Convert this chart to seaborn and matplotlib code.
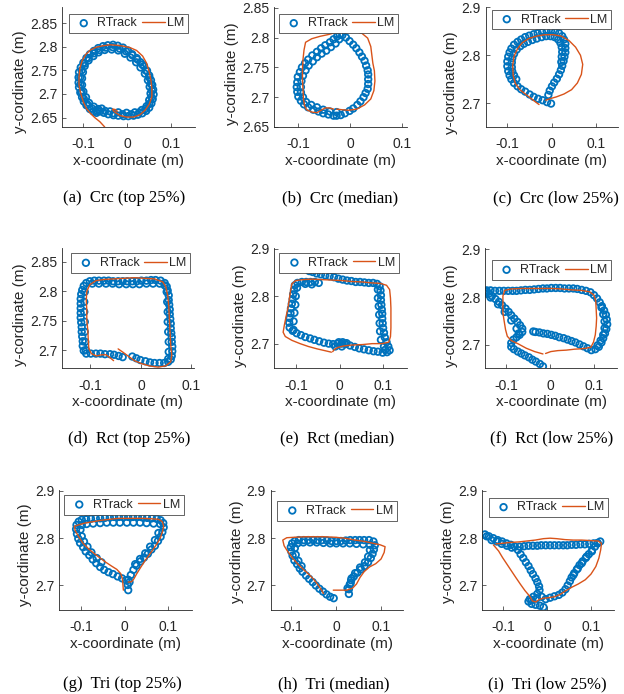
import matplotlib
matplotlib.use("Agg")
import matplotlib.pyplot as plt
import seaborn as sns
import pandas as pd

# ---------------- data: (x, y) in metres ----------------
# (a) circle, top 25%
rtrack_a = [(-0.062, 2.663), (-0.053, 2.660), (-0.043, 2.657), (-0.031, 2.655), (-0.020, 2.654), (-0.008, 2.653),
            (0.003, 2.653), (0.015, 2.654), (0.025, 2.656), (0.035, 2.659), (0.044, 2.664), (0.051, 2.671),
            (0.056, 2.680), (0.059, 2.689), (0.061, 2.699), (0.060, 2.709), (0.058, 2.719), (0.055, 2.729),
            (0.051, 2.739), (0.046, 2.749), (0.039, 2.759), (0.031, 2.767), (0.022, 2.776), (0.012, 2.784),
            (0.002, 2.792), (-0.009, 2.798), (-0.021, 2.802), (-0.032, 2.804), (-0.044, 2.803), (-0.055, 2.801),
            (-0.066, 2.797), (-0.076, 2.791), (-0.085, 2.784), (-0.093, 2.776), (-0.100, 2.766), (-0.106, 2.756),
            (-0.110, 2.746), (-0.111, 2.735), (-0.111, 2.724), (-0.110, 2.714), (-0.107, 2.703), (-0.103, 2.693),
            (-0.099, 2.684), (-0.093, 2.676), (-0.085, 2.668), (-0.077, 2.663), (-0.070, 2.660),
            (-0.058, 2.669), (-0.039, 2.663), (-0.020, 2.661), (-0.001, 2.660), (0.018, 2.661), (0.034, 2.666),
            (0.045, 2.674), (0.051, 2.687), (0.054, 2.701), (0.052, 2.715), (0.048, 2.729), (0.041, 2.743),
            (0.031, 2.756), (0.021, 2.767), (0.008, 2.777), (-0.005, 2.785), (-0.020, 2.792), (-0.035, 2.794),
            (-0.051, 2.793), (-0.065, 2.788), (-0.077, 2.780), (-0.088, 2.771), (-0.097, 2.759), (-0.101, 2.746),
            (-0.103, 2.733), (-0.103, 2.719), (-0.100, 2.705), (-0.094, 2.693), (-0.087, 2.681), (-0.076, 2.673),
            (-0.066, 2.668),
            (-0.050, 2.664), (-0.030, 2.659), (-0.010, 2.657), (0.010, 2.657), (0.028, 2.661), (0.042, 2.668),
            (0.051, 2.679), (0.056, 2.693), (0.057, 2.707), (0.055, 2.721), (0.051, 2.735), (0.044, 2.749),
            (0.035, 2.762), (0.024, 2.773), (0.012, 2.782), (-0.002, 2.790), (-0.017, 2.796), (-0.033, 2.799),
            (-0.049, 2.798), (-0.063, 2.793), (-0.076, 2.786), (-0.088, 2.776), (-0.097, 2.764), (-0.104, 2.750),
            (-0.107, 2.735), (-0.107, 2.720), (-0.104, 2.704), (-0.099, 2.690), (-0.091, 2.678), (-0.080, 2.669),
            (-0.068, 2.664)]
lm_a = [(-0.051, 2.630), (-0.062, 2.641), (-0.074, 2.650), (-0.084, 2.659), (-0.093, 2.669), (-0.100, 2.683),
        (-0.106, 2.701), (-0.110, 2.719), (-0.110, 2.737), (-0.108, 2.754), (-0.103, 2.770), (-0.094, 2.784),
        (-0.084, 2.793), (-0.070, 2.799), (-0.054, 2.802), (-0.039, 2.804), (-0.024, 2.803), (-0.008, 2.801),
        (0.007, 2.798), (0.022, 2.792), (0.036, 2.780), (0.045, 2.765), (0.051, 2.747), (0.055, 2.729),
        (0.057, 2.712), (0.057, 2.694), (0.051, 2.678), (0.042, 2.666), (0.030, 2.656), (0.015, 2.651),
        (-0.001, 2.651), (-0.015, 2.654), (-0.024, 2.659), (-0.031, 2.664), (-0.033, 2.668), (-0.027, 2.667),
        (-0.022, 2.663)]

# (b) circle, median
rtrack_b = [(-0.032, 2.669), (-0.042, 2.671), (-0.052, 2.673), (-0.061, 2.676), (-0.071, 2.679), (-0.081, 2.683),
            (-0.089, 2.688), (-0.095, 2.694), (-0.100, 2.701), (-0.102, 2.709), (-0.103, 2.717), (-0.102, 2.725),
            (-0.101, 2.734), (-0.097, 2.742), (-0.093, 2.750), (-0.087, 2.757), (-0.081, 2.763), (-0.073, 2.770),
            (-0.064, 2.776), (-0.056, 2.782), (-0.048, 2.787), (-0.039, 2.792), (-0.032, 2.797), (-0.025, 2.802),
            (-0.020, 2.805), (-0.015, 2.804), (-0.008, 2.800), (-0.001, 2.794), (0.006, 2.788), (0.012, 2.782),
            (0.018, 2.775), (0.023, 2.768), (0.028, 2.761), (0.031, 2.753), (0.034, 2.745), (0.035, 2.738),
            (0.035, 2.730), (0.035, 2.722), (0.034, 2.714), (0.030, 2.707), (0.026, 2.700), (0.020, 2.693),
            (0.014, 2.687), (0.006, 2.681), (-0.001, 2.677), (-0.010, 2.673), (-0.018, 2.670), (-0.026, 2.669),
            (-0.026, 2.675), (-0.039, 2.676), (-0.052, 2.679), (-0.064, 2.683), (-0.075, 2.687), (-0.085, 2.692),
            (-0.091, 2.700), (-0.095, 2.708), (-0.095, 2.717), (-0.094, 2.727), (-0.091, 2.736), (-0.086, 2.745),
            (-0.080, 2.753), (-0.072, 2.760), (-0.064, 2.767), (-0.055, 2.773), (-0.046, 2.778), (-0.037, 2.784),
            (-0.028, 2.790), (-0.021, 2.797)]
lm_b = [(-0.032, 2.680), (-0.041, 2.682), (-0.048, 2.682), (-0.056, 2.678), (-0.064, 2.674), (-0.074, 2.675),
        (-0.084, 2.679), (-0.088, 2.686), (-0.090, 2.697), (-0.091, 2.713), (-0.092, 2.730), (-0.092, 2.746),
        (-0.091, 2.763), (-0.089, 2.779), (-0.086, 2.792), (-0.074, 2.798), (-0.058, 2.802), (-0.042, 2.805),
        (-0.026, 2.809), (-0.010, 2.811), (0.006, 2.811), (0.023, 2.807), (0.034, 2.799), (0.040, 2.785),
        (0.042, 2.771), (0.044, 2.757), (0.047, 2.744), (0.048, 2.727), (0.046, 2.711), (0.040, 2.697),
        (0.028, 2.687), (0.013, 2.680), (-0.003, 2.678), (-0.016, 2.679), (-0.026, 2.680)]

# (c) circle, low 25%
rtrack_c = [(-0.007, 2.717), (-0.004, 2.726), (0.001, 2.735), (0.006, 2.743), (0.012, 2.751), (0.017, 2.760),
            (0.021, 2.769), (0.024, 2.778), (0.027, 2.788), (0.029, 2.797), (0.031, 2.806), (0.031, 2.815),
            (0.031, 2.824), (0.028, 2.833), (0.024, 2.840), (0.017, 2.846), (0.008, 2.849), (-0.001, 2.851),
            (-0.011, 2.850), (-0.021, 2.848), (-0.031, 2.846), (-0.040, 2.844), (-0.050, 2.841), (-0.059, 2.838),
            (-0.068, 2.833), (-0.076, 2.828), (-0.084, 2.822), (-0.090, 2.814), (-0.094, 2.806), (-0.097, 2.797),
            (-0.099, 2.787), (-0.099, 2.777), (-0.097, 2.767), (-0.094, 2.758), (-0.090, 2.750), (-0.084, 2.742),
            (-0.076, 2.735), (-0.068, 2.729), (-0.059, 2.724), (-0.049, 2.718), (-0.040, 2.713), (-0.030, 2.709),
            (-0.020, 2.706), (-0.010, 2.702), (-0.001, 2.699),
            (0.022, 2.786), (0.023, 2.797), (0.024, 2.807), (0.023, 2.817), (0.020, 2.826), (0.015, 2.833),
            (0.007, 2.838), (-0.002, 2.840), (-0.012, 2.840), (-0.022, 2.838), (-0.033, 2.835), (-0.043, 2.832),
            (-0.053, 2.828), (-0.062, 2.824), (-0.070, 2.819), (-0.078, 2.812), (-0.084, 2.803), (-0.088, 2.794),
            (-0.089, 2.785), (-0.089, 2.775), (-0.088, 2.766), (-0.084, 2.758), (-0.079, 2.750)]
lm_c = [(-0.028, 2.697), (-0.041, 2.706), (-0.056, 2.717), (-0.071, 2.728), (-0.081, 2.741), (-0.086, 2.758),
        (-0.087, 2.779), (-0.084, 2.798), (-0.076, 2.814), (-0.066, 2.826), (-0.051, 2.835), (-0.034, 2.840),
        (-0.015, 2.843), (0.004, 2.843), (0.022, 2.840), (0.039, 2.831), (0.054, 2.817), (0.065, 2.800),
        (0.070, 2.781), (0.067, 2.760), (0.058, 2.742), (0.045, 2.728), (0.028, 2.719), (0.011, 2.713),
        (-0.004, 2.709), (-0.013, 2.706)]

# (d) rectangle, top 25%
rtrack_d = [(-0.017, 2.689), (-0.009, 2.686), (-0.001, 2.683), (0.009, 2.681), (0.018, 2.679), (0.027, 2.678),
            (0.037, 2.678), (0.046, 2.678), (0.054, 2.680), (0.059, 2.684), (0.061, 2.690), (0.062, 2.698),
            (0.062, 2.706), (0.061, 2.714), (0.061, 2.722), (0.060, 2.729), (0.059, 2.737), (0.059, 2.745),
            (0.058, 2.753), (0.057, 2.761), (0.057, 2.769), (0.056, 2.777), (0.055, 2.785), (0.055, 2.793),
            (0.053, 2.801), (0.051, 2.808), (0.047, 2.814), (0.039, 2.818), (0.029, 2.819), (0.020, 2.819),
            (0.011, 2.818), (0.001, 2.818), (-0.008, 2.817), (-0.017, 2.817), (-0.027, 2.817), (-0.036, 2.817),
            (-0.045, 2.817), (-0.055, 2.817), (-0.064, 2.818), (-0.073, 2.818), (-0.083, 2.818), (-0.092, 2.818),
            (-0.101, 2.817), (-0.108, 2.814), (-0.113, 2.809), (-0.116, 2.802), (-0.118, 2.795), (-0.119, 2.787),
            (-0.119, 2.779), (-0.119, 2.771), (-0.119, 2.763), (-0.119, 2.755), (-0.118, 2.747), (-0.117, 2.739),
            (-0.117, 2.731), (-0.116, 2.723), (-0.115, 2.715), (-0.115, 2.707), (-0.113, 2.699), (-0.108, 2.694),
            (-0.099, 2.694), (-0.089, 2.694), (-0.080, 2.694), (-0.071, 2.693), (-0.061, 2.693), (-0.053, 2.692),
            (-0.044, 2.690), (-0.036, 2.688),
            (0.047, 2.810), (0.037, 2.813), (0.024, 2.813), (0.011, 2.813), (-0.003, 2.812), (-0.016, 2.812),
            (-0.029, 2.812), (-0.043, 2.812), (-0.056, 2.813), (-0.069, 2.813), (-0.083, 2.813), (-0.096, 2.813),
            (0.051, 2.799), (0.052, 2.782), (0.053, 2.765), (0.053, 2.748), (0.054, 2.731), (0.055, 2.714),
            (0.055, 2.697), (0.054, 2.685),
            (-0.111, 2.799), (-0.112, 2.782), (-0.112, 2.765), (-0.111, 2.748), (-0.111, 2.731), (-0.110, 2.714),
            (-0.109, 2.700)]
lm_d = [(-0.045, 2.702), (-0.035, 2.696), (-0.024, 2.689), (-0.013, 2.682), (0.001, 2.677), (0.017, 2.673),
        (0.034, 2.671), (0.049, 2.673), (0.059, 2.680), (0.061, 2.692), (0.059, 2.708), (0.058, 2.725),
        (0.057, 2.742), (0.056, 2.759), (0.055, 2.776), (0.053, 2.793), (0.049, 2.808), (0.043, 2.816),
        (0.027, 2.821), (0.007, 2.822), (-0.013, 2.823), (-0.033, 2.822), (-0.053, 2.821), (-0.073, 2.820),
        (-0.089, 2.818), (-0.101, 2.811), (-0.107, 2.800), (-0.108, 2.785), (-0.107, 2.768), (-0.107, 2.751),
        (-0.105, 2.734), (-0.104, 2.717), (-0.103, 2.703), (-0.098, 2.694), (-0.088, 2.690), (-0.077, 2.692),
        (-0.069, 2.692), (-0.061, 2.687), (-0.054, 2.682)]

# (e) rectangle, median
rtrack_e = [(-0.070, 2.853), (-0.062, 2.851), (-0.053, 2.848), (-0.043, 2.846), (-0.033, 2.844), (-0.023, 2.842),
            (-0.013, 2.840), (-0.003, 2.837), (0.007, 2.835), (0.017, 2.833), (0.027, 2.832), (0.037, 2.830),
            (0.047, 2.830), (0.057, 2.829), (0.067, 2.828), (0.077, 2.828), (0.086, 2.826), (0.092, 2.821),
            (0.094, 2.812), (0.095, 2.802), (0.095, 2.792), (0.096, 2.782), (0.097, 2.772), (0.098, 2.763),
            (0.098, 2.753), (0.099, 2.743), (0.100, 2.733), (0.102, 2.723), (0.104, 2.713), (0.108, 2.703),
            (0.112, 2.694), (0.115, 2.686), (0.109, 2.682), (0.099, 2.681), (0.088, 2.683), (0.078, 2.684),
            (0.067, 2.686), (0.056, 2.688), (0.045, 2.690), (0.035, 2.693), (0.024, 2.696), (0.013, 2.699),
            (0.004, 2.700), (-0.005, 2.700), (-0.015, 2.699), (-0.025, 2.700), (-0.036, 2.702), (-0.047, 2.705),
            (-0.058, 2.708), (-0.068, 2.711), (-0.079, 2.714), (-0.089, 2.718), (-0.099, 2.722), (-0.108, 2.727),
            (-0.115, 2.734), (-0.116, 2.744), (-0.115, 2.754), (-0.113, 2.764), (-0.112, 2.774), (-0.110, 2.784),
            (-0.108, 2.794), (-0.107, 2.804), (-0.105, 2.813), (-0.103, 2.823), (-0.097, 2.828), (-0.087, 2.830),
            (-0.077, 2.830), (-0.067, 2.830), (-0.057, 2.830), (-0.048, 2.828),
            (-0.106, 2.729), (-0.106, 2.747), (-0.104, 2.765), (-0.102, 2.782), (-0.101, 2.800), (-0.098, 2.818),
            (0.088, 2.814), (0.088, 2.796), (0.090, 2.779), (0.091, 2.761), (0.092, 2.743), (0.093, 2.726),
            (0.095, 2.708), (0.102, 2.694), (0.105, 2.687),
            (-0.002, 2.703), (0.007, 2.703), (0.016, 2.701), (-0.010, 2.694), (0.005, 2.694),
            (-0.079, 2.826), (-0.064, 2.825)]
lm_e = [(-0.019, 2.682), (-0.033, 2.685), (-0.052, 2.689), (-0.072, 2.694), (-0.091, 2.700), (-0.110, 2.707),
        (-0.125, 2.715), (-0.130, 2.724), (-0.127, 2.740), (-0.123, 2.758), (-0.119, 2.775), (-0.116, 2.793),
        (-0.113, 2.811), (-0.110, 2.826), (-0.101, 2.833), (-0.083, 2.835), (-0.064, 2.836), (-0.041, 2.835),
        (-0.018, 2.834), (0.005, 2.833), (0.028, 2.831), (0.052, 2.830), (0.075, 2.828), (0.094, 2.827),
        (0.108, 2.823), (0.115, 2.814), (0.117, 2.796), (0.118, 2.775), (0.118, 2.754), (0.118, 2.733),
        (0.117, 2.715), (0.113, 2.703), (0.098, 2.700), (0.075, 2.700), (0.052, 2.698), (0.028, 2.697),
        (0.009, 2.695), (-0.004, 2.692), (-0.012, 2.688), (-0.016, 2.683)]

# (f) rectangle, low 25%
rtrack_f = [(-0.017, 2.655), (-0.024, 2.660), (-0.033, 2.665), (-0.041, 2.669), (-0.049, 2.674), (-0.058, 2.678),
            (-0.066, 2.682), (-0.074, 2.686), (-0.083, 2.691), (-0.089, 2.696), (-0.089, 2.704), (-0.084, 2.711),
            (-0.077, 2.716), (-0.070, 2.721), (-0.064, 2.727), (-0.064, 2.734), (-0.069, 2.741), (-0.075, 2.748),
            (-0.082, 2.755), (-0.089, 2.762), (-0.095, 2.769), (-0.102, 2.776), (-0.110, 2.783), (-0.117, 2.790),
            (-0.125, 2.796), (-0.133, 2.802), (-0.140, 2.807), (-0.147, 2.811), (-0.145, 2.814), (-0.136, 2.814),
            (-0.126, 2.813), (-0.116, 2.813), (-0.106, 2.813), (-0.096, 2.813), (-0.086, 2.813), (-0.077, 2.813),
            (-0.067, 2.814), (-0.057, 2.815), (-0.047, 2.815), (-0.037, 2.816), (-0.027, 2.817), (-0.017, 2.818),
            (-0.008, 2.818), (0.002, 2.819), (0.012, 2.819), (0.022, 2.819), (0.032, 2.818), (0.042, 2.818),
            (0.052, 2.818), (0.061, 2.817), (0.071, 2.815), (0.081, 2.813), (0.091, 2.810), (0.099, 2.804),
            (0.106, 2.797), (0.112, 2.789), (0.117, 2.781), (0.122, 2.772), (0.126, 2.763), (0.128, 2.753),
            (0.129, 2.743), (0.127, 2.733), (0.124, 2.724), (0.120, 2.714), (0.116, 2.705), (0.110, 2.696),
            (0.102, 2.691), (0.093, 2.689), (0.084, 2.693), (0.075, 2.697), (0.066, 2.701), (0.057, 2.705),
            (0.048, 2.708), (0.039, 2.711), (0.030, 2.714), (0.020, 2.716), (0.011, 2.719), (0.002, 2.721),
            (-0.007, 2.723), (-0.016, 2.724), (-0.025, 2.726), (-0.034, 2.727), (-0.039, 2.728),
            (0.116, 2.778), (0.120, 2.764), (0.123, 2.749), (0.123, 2.735), (0.120, 2.721), (0.114, 2.709),
            (0.107, 2.699),
            (-0.072, 2.724), (-0.077, 2.734), (-0.089, 2.751), (-0.104, 2.769), (-0.119, 2.785), (-0.136, 2.799),
            (-0.149, 2.808)]
lm_f = [(-0.017, 2.681), (-0.036, 2.686), (-0.055, 2.693), (-0.073, 2.702), (-0.089, 2.709), (-0.098, 2.718),
        (-0.102, 2.732), (-0.105, 2.749), (-0.108, 2.767), (-0.108, 2.785), (-0.108, 2.802), (-0.104, 2.814),
        (-0.089, 2.817), (-0.066, 2.818), (-0.043, 2.818), (-0.020, 2.818), (0.002, 2.818), (0.025, 2.817),
        (0.048, 2.815), (0.070, 2.814), (0.089, 2.811), (0.099, 2.804), (0.103, 2.792), (0.104, 2.774),
        (0.105, 2.756), (0.104, 2.739), (0.102, 2.721), (0.098, 2.706), (0.092, 2.695), (0.074, 2.692),
        (0.055, 2.691), (0.036, 2.689), (0.017, 2.688), (0.001, 2.686), (-0.011, 2.682)]

# (g) triangle, top 25%
rtrack_g = [(0.008, 2.690), (0.007, 2.701), (0.008, 2.712), (0.014, 2.722), (0.020, 2.733), (0.027, 2.742),
            (0.036, 2.751), (0.044, 2.759), (0.053, 2.767), (0.061, 2.776), (0.069, 2.784), (0.076, 2.794),
            (0.082, 2.803), (0.086, 2.813), (0.089, 2.823), (0.088, 2.832), (0.082, 2.838), (0.073, 2.841),
            (0.062, 2.842), (0.051, 2.843), (0.040, 2.844), (0.030, 2.845), (0.019, 2.845), (0.008, 2.845),
            (-0.002, 2.845), (-0.013, 2.845), (-0.024, 2.845), (-0.034, 2.844), (-0.045, 2.843), (-0.056, 2.842),
            (-0.066, 2.842), (-0.077, 2.841), (-0.088, 2.840), (-0.098, 2.839), (-0.105, 2.835), (-0.110, 2.828),
            (-0.111, 2.819), (-0.109, 2.809), (-0.106, 2.799), (-0.102, 2.790), (-0.095, 2.781), (-0.089, 2.772),
            (-0.081, 2.764), (-0.073, 2.755), (-0.065, 2.747), (-0.056, 2.739), (-0.047, 2.733), (-0.037, 2.728),
            (-0.027, 2.724), (-0.016, 2.719), (-0.006, 2.715), (0.003, 2.711), (0.011, 2.707),
            (0.081, 2.830), (0.066, 2.831), (0.050, 2.832), (0.035, 2.833), (0.020, 2.833), (0.005, 2.833),
            (-0.011, 2.833), (-0.026, 2.833), (-0.041, 2.833), (-0.056, 2.832), (-0.072, 2.831), (-0.087, 2.830),
            (-0.098, 2.828),
            (-0.101, 2.818), (-0.098, 2.804), (-0.093, 2.793), (-0.085, 2.782), (-0.076, 2.770), (-0.064, 2.758),
            (-0.053, 2.749),
            (0.077, 2.811), (0.069, 2.796), (0.058, 2.782), (0.047, 2.768), (0.035, 2.756), (0.024, 2.745)]
lm_g = [(-0.003, 2.690), (-0.004, 2.701), (-0.005, 2.714), (-0.009, 2.725), (-0.018, 2.734), (-0.030, 2.741),
        (-0.043, 2.749), (-0.056, 2.758), (-0.069, 2.767), (-0.082, 2.777), (-0.095, 2.789), (-0.105, 2.803),
        (-0.113, 2.816), (-0.115, 2.825), (-0.106, 2.828), (-0.091, 2.832), (-0.072, 2.835), (-0.053, 2.838),
        (-0.034, 2.840), (-0.015, 2.842), (0.005, 2.842), (0.024, 2.842), (0.043, 2.842), (0.062, 2.841),
        (0.077, 2.840), (0.086, 2.835), (0.089, 2.825), (0.086, 2.813), (0.081, 2.800), (0.073, 2.787),
        (0.064, 2.775), (0.054, 2.762), (0.044, 2.749), (0.035, 2.736), (0.027, 2.724), (0.021, 2.714),
        (0.016, 2.708), (0.008, 2.707)]

# (h) triangle, median
rtrack_h = [(0.029, 2.682), (0.029, 2.692), (0.031, 2.702), (0.034, 2.711), (0.040, 2.719), (0.048, 2.727),
            (0.056, 2.734), (0.064, 2.741), (0.072, 2.749), (0.078, 2.758), (0.082, 2.767), (0.085, 2.776),
            (0.087, 2.785), (0.084, 2.793), (0.074, 2.796), (0.063, 2.796), (0.053, 2.796), (0.043, 2.796),
            (0.032, 2.796), (0.022, 2.795), (0.011, 2.794), (0.001, 2.794), (-0.010, 2.794), (-0.020, 2.795),
            (-0.031, 2.796), (-0.041, 2.796), (-0.051, 2.796), (-0.062, 2.796), (-0.072, 2.796), (-0.083, 2.796),
            (-0.092, 2.794), (-0.098, 2.789), (-0.101, 2.781), (-0.100, 2.772), (-0.097, 2.763), (-0.093, 2.753),
            (-0.087, 2.745), (-0.081, 2.736), (-0.075, 2.729), (-0.067, 2.721), (-0.060, 2.714), (-0.052, 2.707),
            (-0.045, 2.700), (-0.037, 2.693), (-0.029, 2.687), (-0.021, 2.681), (-0.013, 2.676), (-0.005, 2.673),
            (0.076, 2.786), (0.061, 2.787), (0.046, 2.788), (0.031, 2.789), (0.016, 2.789), (0.001, 2.789),
            (-0.013, 2.789), (-0.028, 2.790), (-0.043, 2.791), (-0.058, 2.791), (-0.073, 2.791), (-0.086, 2.789),
            (-0.092, 2.779), (-0.090, 2.765), (-0.084, 2.752), (-0.077, 2.741),
            (0.076, 2.775), (0.072, 2.761), (0.065, 2.749), (0.054, 2.738), (0.043, 2.726), (0.035, 2.715),
            (0.033, 2.705), (0.026, 2.694)]
lm_h = [(-0.006, 2.690), (0.009, 2.690), (0.024, 2.690), (0.037, 2.694), (0.046, 2.703), (0.054, 2.717),
        (0.063, 2.729), (0.075, 2.739), (0.089, 2.746), (0.101, 2.756), (0.108, 2.770), (0.110, 2.782),
        (0.099, 2.786), (0.084, 2.789), (0.065, 2.793), (0.043, 2.796), (0.020, 2.800), (-0.002, 2.802),
        (-0.025, 2.803), (-0.047, 2.803), (-0.069, 2.803), (-0.092, 2.802), (-0.110, 2.801), (-0.119, 2.796),
        (-0.116, 2.784), (-0.108, 2.772), (-0.098, 2.759), (-0.086, 2.746), (-0.073, 2.734), (-0.060, 2.723),
        (-0.049, 2.712), (-0.040, 2.701), (-0.032, 2.690), (-0.028, 2.683)]

# (i) triangle, low 25%
rtrack_i = [(-0.142, 2.808), (-0.133, 2.804), (-0.123, 2.800), (-0.113, 2.796), (-0.103, 2.793), (-0.093, 2.789),
            (-0.083, 2.786), (-0.074, 2.782), (-0.067, 2.775), (-0.061, 2.766), (-0.055, 2.758), (-0.049, 2.749),
            (-0.043, 2.741), (-0.038, 2.732), (-0.033, 2.724), (-0.027, 2.715), (-0.023, 2.707), (-0.019, 2.698),
            (-0.018, 2.690), (-0.023, 2.682), (-0.032, 2.676), (-0.040, 2.671), (-0.043, 2.666), (-0.036, 2.661),
            (-0.027, 2.659), (-0.017, 2.657), (-0.009, 2.654),
            (-0.004, 2.671), (0.006, 2.674), (0.016, 2.677), (0.026, 2.680), (0.034, 2.685), (0.041, 2.692),
            (0.046, 2.700), (0.051, 2.709), (0.055, 2.717), (0.061, 2.726), (0.067, 2.734), (0.073, 2.743),
            (0.080, 2.751), (0.087, 2.758), (0.094, 2.766), (0.101, 2.774), (0.108, 2.782), (0.114, 2.789),
            (0.120, 2.793), (0.114, 2.790), (0.105, 2.789), (0.095, 2.788), (0.085, 2.787), (0.075, 2.787),
            (0.065, 2.786), (0.055, 2.786), (0.045, 2.785), (0.036, 2.785), (0.026, 2.785), (0.016, 2.785),
            (0.006, 2.785), (-0.004, 2.785), (-0.014, 2.785), (-0.023, 2.784), (-0.033, 2.784), (-0.043, 2.784),
            (-0.053, 2.783), (-0.063, 2.782),
            (-0.138, 2.804), (-0.127, 2.796), (-0.115, 2.793), (-0.104, 2.788), (-0.092, 2.784), (-0.081, 2.780),
            (0.059, 2.722), (0.069, 2.736), (0.078, 2.747), (0.089, 2.761), (0.101, 2.772),
            (-0.036, 2.669), (-0.024, 2.673), (-0.013, 2.676)]
lm_i = [(-0.123, 2.786), (-0.111, 2.773), (-0.102, 2.759), (-0.092, 2.745), (-0.082, 2.731), (-0.072, 2.717),
        (-0.061, 2.702), (-0.051, 2.689), (-0.041, 2.678), (-0.034, 2.667), (-0.026, 2.665), (-0.019, 2.670),
        (-0.009, 2.673), (0.002, 2.674), (0.016, 2.676), (0.029, 2.681), (0.042, 2.689), (0.055, 2.696),
        (0.070, 2.703), (0.086, 2.712), (0.099, 2.724), (0.110, 2.740), (0.117, 2.758), (0.121, 2.775),
        (0.123, 2.789), (0.116, 2.794), (0.097, 2.795), (0.078, 2.796), (0.059, 2.796), (0.040, 2.797),
        (0.021, 2.799), (0.006, 2.800), (-0.009, 2.799), (-0.028, 2.796), (-0.047, 2.794), (-0.066, 2.792),
        (-0.085, 2.791), (-0.104, 2.789), (-0.117, 2.788)]

labels = ["(a)", "(b)", "(c)", "(d)", "(e)", "(f)", "(g)", "(h)", "(i)"]
captions = ["Crc (top 25%)", "Crc (median)", "Crc (low 25%)",
            "Rct (top 25%)", "Rct (median)", "Rct (low 25%)",
            "Tri (top 25%)", "Tri (median)", "Tri (low 25%)"]
rtracks = [rtrack_a, rtrack_b, rtrack_c, rtrack_d, rtrack_e, rtrack_f, rtrack_g, rtrack_h, rtrack_i]
lms = [lm_a, lm_b, lm_c, lm_d, lm_e, lm_f, lm_g, lm_h, lm_i]

x_ticks = [-0.1, 0, 0.1]
x_tick_labels = ["-0.1", "0", "0.1"]
y_ticks_fine = [2.65, 2.7, 2.75, 2.8, 2.85]
y_labels_fine = ["2.65", "2.7", "2.75", "2.8", "2.85"]
y_ticks_d = [2.7, 2.75, 2.8, 2.85]
y_labels_d = ["2.7", "2.75", "2.8", "2.85"]
y_ticks_coarse = [2.7, 2.8, 2.9]
y_labels_coarse = ["2.7", "2.8", "2.9"]

# ---------------- layout ----------------
W, H = 624, 694
BLUE = "#0072BD"
ORANGE = "#D95319"
INK = "#262626"

# axes boxes in pixels: left, bottom, width, height
boxes = [(62, 567, 133, 120.5), (274, 567, 133, 120.5), (485.5, 567, 132, 120.5),
         (62, 325.7, 132, 120), (274, 325.7, 133, 120), (485.3, 325.7, 132, 120),
         (59, 84, 132.7, 120), (270.7, 84, 132.7, 120), (482.3, 84, 132, 120)]
xlims = [(-0.149, 0.156), (-0.147, 0.110), (-0.148, 0.148),
         (-0.156, 0.105), (-0.151, 0.155), (-0.148, 0.152),
         (-0.150, 0.153), (-0.146, 0.151), (-0.148, 0.152)]
ylims = [(2.630, 2.885), (2.651, 2.852), (2.650, 2.902),
         (2.669, 2.873), (2.648, 2.901), (2.651, 2.902),
         (2.648, 2.902), (2.648, 2.902), (2.648, 2.902)]
yticks = [(y_ticks_fine, y_labels_fine), (y_ticks_fine, y_labels_fine), (y_ticks_coarse, y_labels_coarse),
          (y_ticks_d, y_labels_d), (y_ticks_coarse, y_labels_coarse), (y_ticks_coarse, y_labels_coarse),
          (y_ticks_coarse, y_labels_coarse), (y_ticks_coarse, y_labels_coarse), (y_ticks_coarse, y_labels_coarse)]
ylabel_y = [0.38, 0.44, 0.37, 0.45, 0.44, 0.44, 0.46, 0.49, 0.49]
legend_anchor = [(0.50, 0.94), (0.485, 0.94), (0.50, 0.973),
                 (0.52, 0.958), (0.49, 0.96), (0.50, 0.90),
                 (0.49, 0.958), (0.50, 0.908), (0.50, 0.936)]
caption_xy = [(124, 198), (340.5, 198), (555.5, 198),
              (129, 438.7), (337.5, 438.7), (552, 438.7),
              (122, 684), (333.3, 684), (547, 684)]

sns.set_theme(style="white")
plt.rcParams["font.family"] = ["Liberation Sans", "DejaVu Sans"]
plt.rcParams["axes.unicode_minus"] = False

fig = plt.figure(figsize=(W / 100, H / 100), dpi=100)

for k in range(9):
    l, b, w, h = boxes[k]
    ax = fig.add_axes([l / W, b / H, w / W, h / H])
    rt = pd.DataFrame(rtracks[k], columns=["x", "y"])
    lm = pd.DataFrame(lms[k], columns=["x", "y"])

    sns.scatterplot(data=rt, x="x", y="y", ax=ax, marker="o", s=22,
                    facecolors="none", edgecolor=BLUE, linewidth=1.3,
                    label="RTrack", zorder=2)
    sns.lineplot(data=lm, x="x", y="y", ax=ax, sort=False, estimator=None,
                 color=ORANGE, linewidth=1.0, label="LM", zorder=3)

    ax.set_xlim(*xlims[k])
    ax.set_ylim(*ylims[k])
    ax.set_xticks(x_ticks)
    ax.set_xticklabels(x_tick_labels)
    ax.set_yticks(yticks[k][0])
    ax.set_yticklabels(yticks[k][1])

    for side in ["top", "right"]:
        ax.spines[side].set_visible(False)
    for side in ["left", "bottom"]:
        ax.spines[side].set_color(INK)
        ax.spines[side].set_linewidth(0.6)
    ax.tick_params(bottom=True, left=True, direction="in", length=3, width=0.5,
                   color=INK, labelcolor=INK, labelsize=10)
    ax.tick_params(axis="x", pad=7.5)
    ax.tick_params(axis="y", pad=3.5)

    ax.set_xlabel("x-coordinate (m)", fontsize=11, color=INK, labelpad=2)
    ax.set_ylabel("y-cordinate (m)", fontsize=11, color=INK, labelpad=2)
    ax.yaxis.label.set_y(ylabel_y[k])

    leg = ax.legend(loc="upper center", bbox_to_anchor=legend_anchor[k], ncol=2,
                    frameon=True, fancybox=False, framealpha=1, edgecolor=INK,
                    fontsize=9, handlelength=1.8, handletextpad=0.2,
                    columnspacing=0.4, borderpad=0.3, borderaxespad=0,
                    scatterpoints=1)
    leg.get_frame().set_linewidth(0.5)
    for t in leg.get_texts():
        t.set_color(INK)

    cx, cy = caption_xy[k]
    fig.text(cx / W, 1 - cy / H, labels[k] + "  " + captions[k], ha="center", va="center",
             family=["Liberation Serif", "DejaVu Serif"], fontsize=12, color="black")

fig.savefig("out.png", dpi=100)
